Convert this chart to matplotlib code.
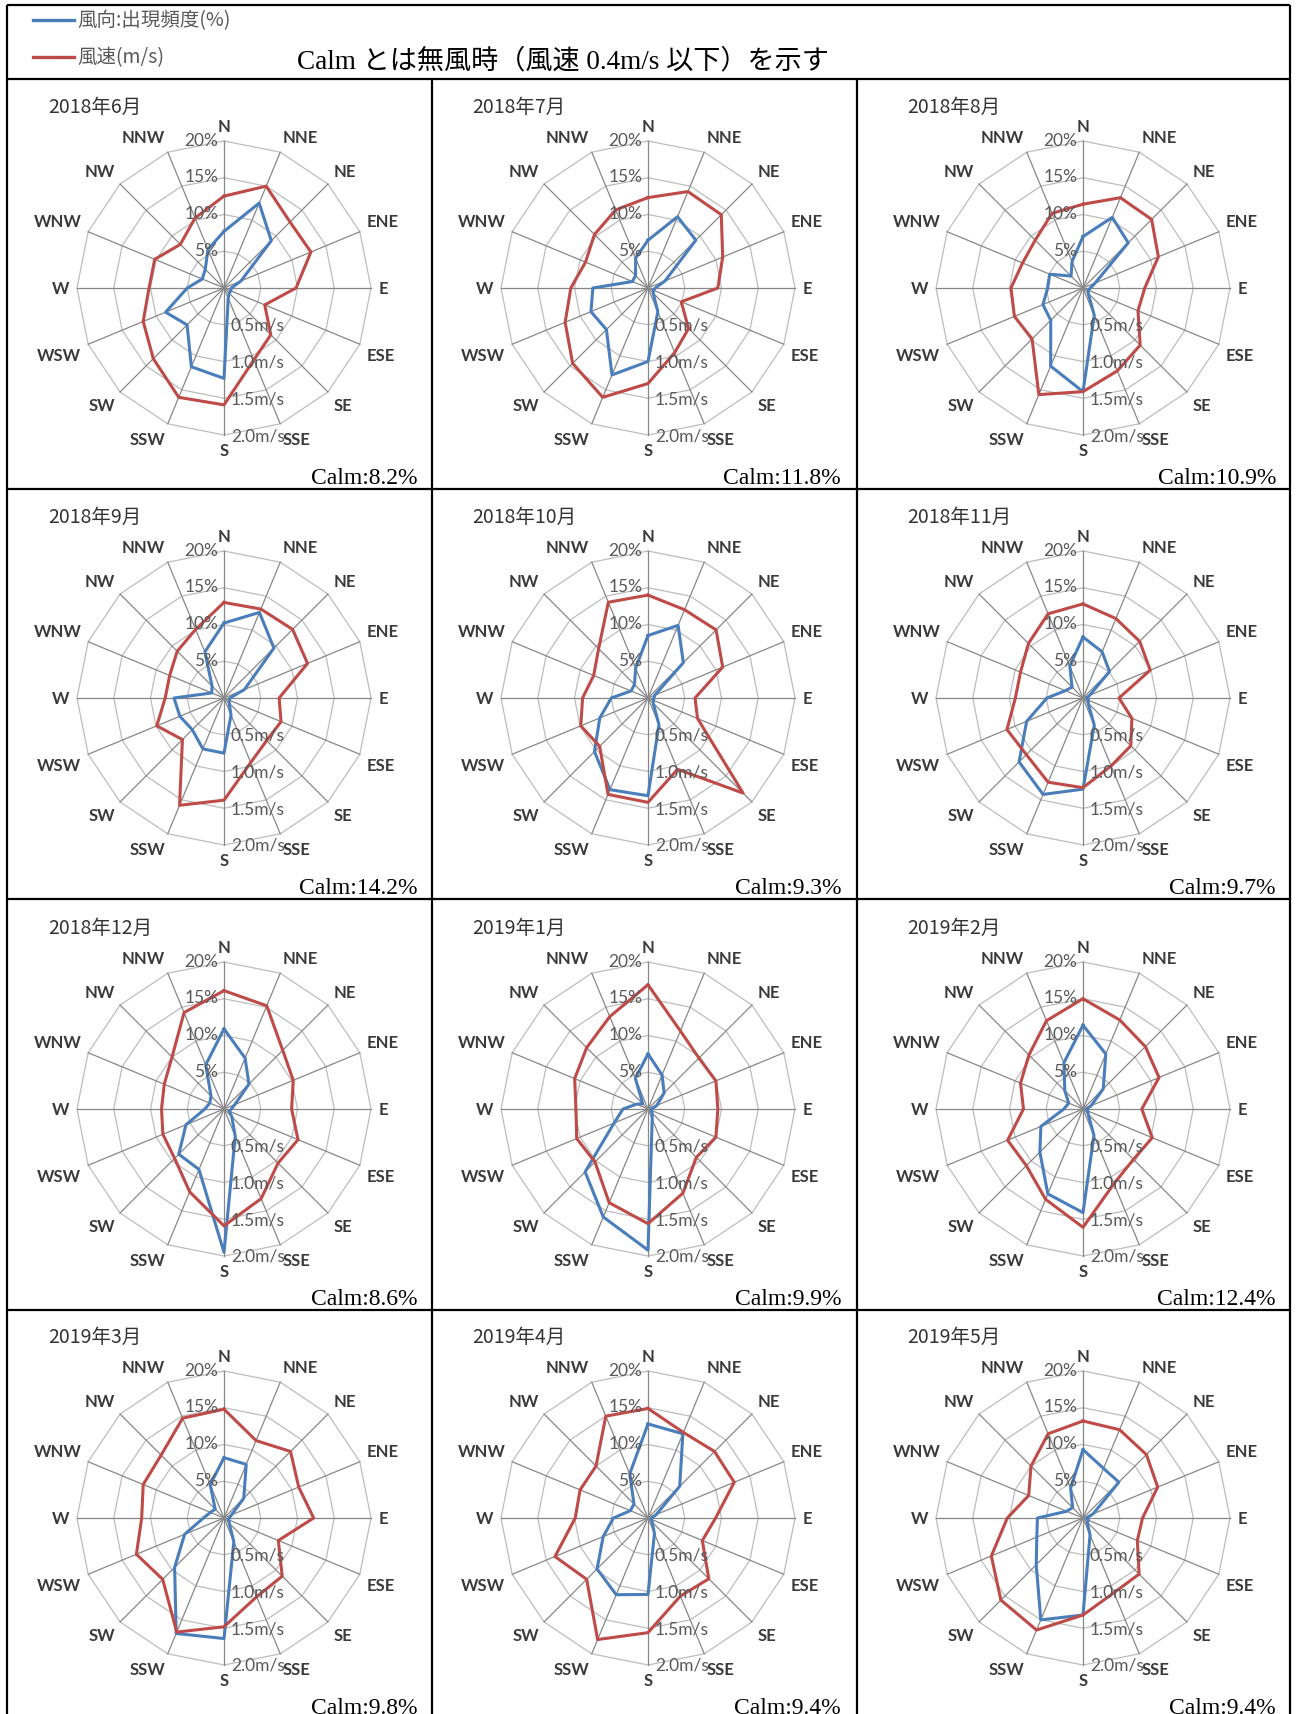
import numpy as np
import matplotlib as mpl
mpl.use('Agg')
import matplotlib.pyplot as plt

plt.rcParams['font.family'] = ['Lato', 'Noto Sans CJK JP', 'DejaVu Sans']

# 16 wind directions, clockwise from north
directions = ['N', 'NNE', 'NE', 'ENE', 'E', 'ESE', 'SE', 'SSE',
              'S', 'SSW', 'SW', 'WSW', 'W', 'WNW', 'NW', 'NNW']

months = ['2018年6月', '2018年7月', '2018年8月', '2018年9月',
          '2018年10月', '2018年11月', '2018年12月', '2019年1月',
          '2019年2月', '2019年3月', '2019年4月', '2019年5月']
calm = [8.2, 11.8, 10.9, 14.2, 9.3, 9.7, 8.6, 9.9, 12.4, 9.8, 9.4, 9.4]

# frequency of occurrence (%) per direction
freq_1806 = [7.7, 12.5, 9.1, 2.5, 1.0, 1.0, 1.0, 1.5, 12.3, 11.6, 7.1, 8.6, 5.0, 3.2, 3.6, 5.7]
freq_1807 = [6.5, 10.5, 9.2, 2.5, 1.0, 0.8, 1.0, 3.5, 10.0, 12.8, 8.0, 8.4, 7.5, 2.3, 2.4, 4.4]
freq_1808 = [7.0, 10.4, 8.7, 1.8, 1.0, 0.8, 1.0, 4.0, 14.1, 11.5, 6.2, 5.9, 4.8, 4.9, 2.3, 3.9]
freq_1809 = [10.2, 12.6, 9.6, 3.0, 0.8, 0.8, 1.0, 2.5, 7.5, 7.5, 6.1, 6.5, 6.8, 1.8, 2.3, 6.8]
freq_1810 = [8.5, 10.7, 6.8, 1.0, 0.8, 0.8, 1.0, 3.9, 13.3, 13.5, 10.3, 7.1, 5.0, 2.5, 2.6, 4.4]
freq_1811 = [8.3, 6.8, 5.1, 1.0, 0.5, 0.8, 1.0, 4.0, 12.4, 14.2, 12.3, 8.3, 4.9, 2.6, 2.1, 4.7]
freq_1812 = [10.9, 7.5, 4.8, 1.6, 1.0, 0.8, 1.5, 4.0, 19.5, 8.9, 8.7, 5.6, 2.6, 2.1, 2.5, 6.5]
freq_1901 = [7.5, 5.0, 3.1, 1.3, 0.5, 0.5, 0.8, 1.5, 19.2, 15.9, 12.1, 5.0, 3.4, 1.7, 1.0, 4.5]
freq_1902 = [11.4, 8.1, 3.9, 1.2, 0.5, 0.7, 1.0, 3.9, 14.1, 12.5, 8.3, 6.2, 2.6, 2.1, 3.5, 6.8]
freq_1903 = [8.2, 7.9, 3.8, 1.1, 0.7, 0.7, 1.0, 3.5, 16.4, 17.0, 9.5, 5.8, 2.8, 2.0, 1.7, 4.9]
freq_1904 = [12.8, 12.4, 6.1, 1.2, 0.5, 0.5, 0.8, 2.3, 10.4, 11.3, 9.8, 6.6, 4.7, 2.6, 2.7, 6.5]
freq_1905 = [9.3, 7.3, 6.9, 1.5, 0.5, 0.8, 0.8, 2.5, 13.2, 15.0, 9.0, 6.8, 6.2, 2.4, 2.0, 4.4]

# mean wind speed (m/s) per direction
speed_1806 = [1.25, 1.50, 1.27, 1.28, 0.98, 0.60, 0.90, 1.06, 1.59, 1.61, 1.36, 1.19, 1.02, 1.02, 0.84, 1.03]
speed_1807 = [1.23, 1.42, 1.41, 1.10, 0.95, 0.49, 0.78, 0.95, 1.30, 1.61, 1.45, 1.22, 1.05, 0.92, 1.03, 1.15]
speed_1808 = [1.14, 1.33, 1.32, 1.11, 0.84, 0.81, 1.10, 1.22, 1.41, 1.57, 0.98, 1.01, 0.98, 0.89, 0.92, 1.10]
speed_1809 = [1.30, 1.31, 1.32, 1.23, 0.75, 0.84, 0.82, 0.95, 1.39, 1.58, 0.80, 0.99, 0.80, 0.80, 0.90, 1.01]
speed_1810 = [1.40, 1.30, 1.31, 1.10, 0.64, 0.73, 1.83, 1.05, 1.42, 1.42, 0.93, 0.99, 0.89, 0.80, 0.95, 1.41]
speed_1811 = [1.28, 1.17, 1.09, 0.99, 0.49, 0.72, 0.92, 1.00, 1.22, 1.24, 1.09, 1.12, 0.92, 0.92, 1.05, 1.24]
speed_1812 = [1.61, 1.52, 1.13, 1.02, 0.92, 1.09, 1.04, 1.32, 1.59, 1.22, 0.95, 0.90, 0.85, 0.88, 1.00, 1.42]
speed_1901 = [1.69, 1.15, 0.98, 1.00, 0.95, 1.00, 0.93, 1.24, 1.56, 1.38, 1.02, 1.05, 0.98, 1.08, 1.18, 1.36]
speed_1902 = [1.50, 1.31, 1.20, 1.12, 0.80, 1.02, 0.97, 1.10, 1.61, 1.33, 1.09, 1.11, 0.81, 0.92, 1.04, 1.30]
speed_1903 = [1.48, 1.14, 1.28, 1.10, 1.22, 0.80, 1.12, 1.16, 1.48, 1.68, 1.18, 1.29, 1.12, 1.19, 1.21, 1.47]
speed_1904 = [1.49, 1.26, 1.28, 1.27, 0.92, 0.80, 1.17, 1.15, 1.56, 1.79, 1.18, 1.37, 0.99, 1.00, 1.00, 1.50]
speed_1905 = [1.32, 1.30, 1.22, 1.10, 0.81, 0.80, 1.08, 1.10, 1.32, 1.65, 1.58, 1.35, 1.03, 0.80, 1.00, 1.24]

freq_all = [freq_1806, freq_1807, freq_1808, freq_1809, freq_1810, freq_1811,
            freq_1812, freq_1901, freq_1902, freq_1903, freq_1904, freq_1905]
speed_all = [speed_1806, speed_1807, speed_1808, speed_1809, speed_1810, speed_1811,
             speed_1812, speed_1901, speed_1902, speed_1903, speed_1904, speed_1905]

pct_ticks = [5, 10, 15, 20]
speed_ticks = [0.5, 1.0, 1.5, 2.0]

BLUE = '#4a7ebb'
RED = '#be4b48'
W, H = 1297, 1715
R = 147
col_cx = [224, 648, 1083]
row_cy = [289, 699, 1110, 1519]


def radar(ax, freq, speed):
    theta = np.deg2rad(np.arange(16) * 22.5)
    closed = np.append(theta, theta[0])
    ax.set_theta_zero_location('N')
    ax.set_theta_direction(-1)
    ax.set_axis_off()
    for r in pct_ticks:
        ax.plot(closed, [r] * 17, color='#bdbdbd', lw=0.9, clip_on=False, zorder=1)
    for t in theta:
        ax.plot([t, t], [0, 20], color='#878787', lw=0.9, clip_on=False, zorder=1)
    f = np.append(freq, freq[0])
    s = np.append(speed, speed[0]) * 10
    ax.plot(closed, f, color=BLUE, lw=2.2, clip_on=False, zorder=3)
    ax.plot(closed, s, color=RED, lw=2.2, clip_on=False, zorder=4)
    for t, lab in zip(theta, directions):
        sx, cy = np.sin(t), np.cos(t)
        ha = 'left' if sx > 0.1 else ('right' if sx < -0.1 else 'center')
        va = 'bottom' if cy > 0.1 else ('top' if cy < -0.1 else 'center')
        ax.text(t, 21, lab, ha=ha, va=va, fontsize=12, fontweight='bold',
                color='#3a3a3a', clip_on=False)
    for v in pct_ticks:
        ax.annotate('%d%%' % v, xy=(0, v), xytext=(-4, 1), textcoords='offset points',
                    ha='right', va='center', fontsize=12.5, color='#595959',
                    annotation_clip=False, zorder=5)
    for v in speed_ticks:
        ax.annotate('%.1fm/s' % v, xy=(np.pi, v * 10), xytext=(5, 0),
                    textcoords='offset points', ha='left', va='center',
                    fontsize=12.5, color='#595959', annotation_clip=False, zorder=5)
    ax.set_ylim(0, 20)


fig = plt.figure(figsize=(W / 100, H / 100), dpi=100)
bg = fig.add_axes([0, 0, 1, 1])
bg.set_xlim(0, W)
bg.set_ylim(H, 0)
bg.axis('off')

# frame
k = dict(color='black', lw=1.6, solid_capstyle='butt')
bg.plot([7, 1290], [6, 6], **k)
bg.plot([7, 1290], [80, 80], **k)
for y in [490, 900, 1311]:
    bg.plot([7, 1290], [y, y], **k)
for x in [7, 1290]:
    bg.plot([x, x], [6, H], **k)
for x in [432, 857]:
    bg.plot([x, x], [80, H], **k)

# legend and note
bg.plot([33, 74], [21, 21], color=BLUE, lw=2.4)
bg.text(77, 21, '風向:出現頻度(%)', va='center', ha='left', fontsize=14,
        color='#595959', family=['Noto Sans CJK JP', 'DejaVu Sans'])
bg.plot([33, 74], [58, 58], color=RED, lw=2.4)
bg.text(77, 58, '風速(m/s)', va='center', ha='left', fontsize=14,
        color='#595959', family=['Noto Sans CJK JP', 'DejaVu Sans'])
bg.text(297, 62, 'Calm とは無風時（風速 0.4m/s 以下）を示す', va='center', ha='left',
        fontsize=19.5, color='black', family=['Liberation Serif', 'Noto Sans CJK JP'])

for i in range(12):
    r, c = divmod(i, 3)
    cx, cy = col_cx[c], row_cy[r]
    ax = fig.add_axes([(cx - R) / W, 1 - (cy + R) / H, 2 * R / W, 2 * R / H],
                      projection='polar')
    radar(ax, freq_all[i], speed_all[i])
    bg.text(cx - 176, cy - 182, months[i], ha='left', va='center', fontsize=14,
            color='#333333', family=['Noto Sans CJK JP', 'DejaVu Sans'])
    bg.text(cx + 193, cy + 190, 'Calm:%.1f%%' % calm[i], ha='right', va='center',
            fontsize=17, color='black', family=['Liberation Serif'])

fig.savefig('out.png', dpi=100)
